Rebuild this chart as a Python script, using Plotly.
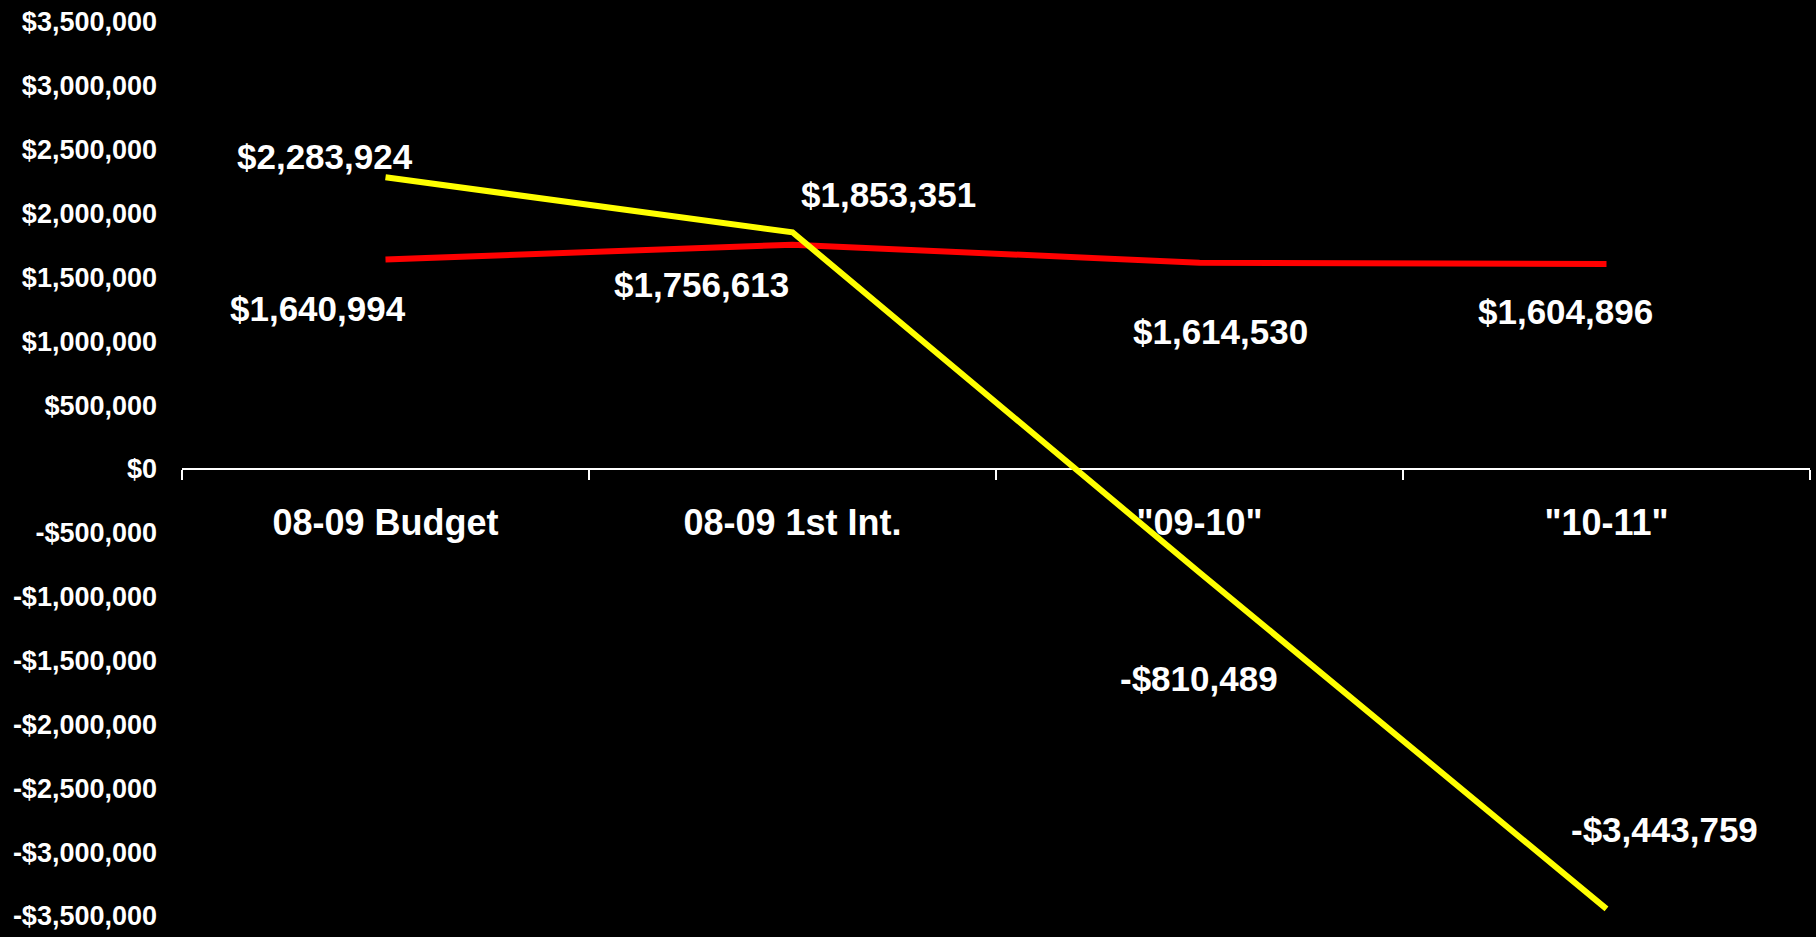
import plotly.graph_objects as go

# Categories and series values
categories = ['08-09 Budget', '08-09 1st Int.', '"09-10"', '"10-11"']
balance_yellow = [2283924, 1853351, -810489, -3443759]
balance_red = [1640994, 1756613, 1614530, 1604896]

# Y axis ticks
tick_values = [3500000, 3000000, 2500000, 2000000, 1500000, 1000000, 500000, 0,
               -500000, -1000000, -1500000, -2000000, -2500000, -3000000, -3500000]
tick_labels = ['$3,500,000', '$3,000,000', '$2,500,000', '$2,000,000', '$1,500,000',
               '$1,000,000', '$500,000', '$0', '-$500,000', '-$1,000,000',
               '-$1,500,000', '-$2,000,000', '-$2,500,000', '-$3,000,000', '-$3,500,000']

# Pixel offsets of the value labels relative to their points
yellow_offsets = [(-61, 21), (96, 38), (-1, -106), (58, 79)]
red_offsets = [(-68, -49), (-91, -40), (21, -69), (-41, -47)]

FONT = 'Arial, "Liberation Sans", sans-serif'


def money(v):
    s = '${:,.0f}'.format(abs(v))
    return '-' + s if v < 0 else s


fig = go.Figure()
fig.add_trace(go.Scatter(x=categories, y=balance_red, mode='lines',
                         line=dict(color='#FF0000', width=6), hoverinfo='skip'))
fig.add_trace(go.Scatter(x=categories, y=balance_yellow, mode='lines',
                         line=dict(color='#FFFF00', width=6), hoverinfo='skip'))

annotations = []
for series, offsets in ((balance_yellow, yellow_offsets), (balance_red, red_offsets)):
    for cat, val, (dx, dy) in zip(categories, series, offsets):
        annotations.append(dict(x=cat, y=val, xref='x', yref='y', text=money(val),
                                showarrow=False, xshift=dx, yshift=dy,
                                font=dict(family=FONT, size=35, color='white',
                                          weight='bold')))

fig.update_layout(
    width=1816, height=937,
    paper_bgcolor='black', plot_bgcolor='black',
    margin=dict(l=182, r=6, t=22, b=13),
    showlegend=False,
    annotations=annotations,
    xaxis=dict(
        type='category', range=[-0.5, 3.5],
        anchor='free', position=0.5,
        showline=True, linecolor='white', linewidth=2,
        ticks='outside', tickson='boundaries', ticklen=10, tickwidth=2, tickcolor='white',
        tickfont=dict(family=FONT, size=36, color='white', weight='bold'),
        ticklabelstandoff=22,
        showgrid=False, zeroline=False, layer='below traces', fixedrange=True,
    ),
    yaxis=dict(
        range=[-3500000, 3500000],
        tickmode='array', tickvals=tick_values, ticktext=tick_labels,
        tickfont=dict(family=FONT, size=27, color='white', weight='bold'),
        ticklabeloverflow='allow',
        showline=False, showgrid=False, zeroline=False, ticks='',
        ticklabelstandoff=24, fixedrange=True,
    ),
)

fig.write_html('out.html', config={'displayModeBar': False})
